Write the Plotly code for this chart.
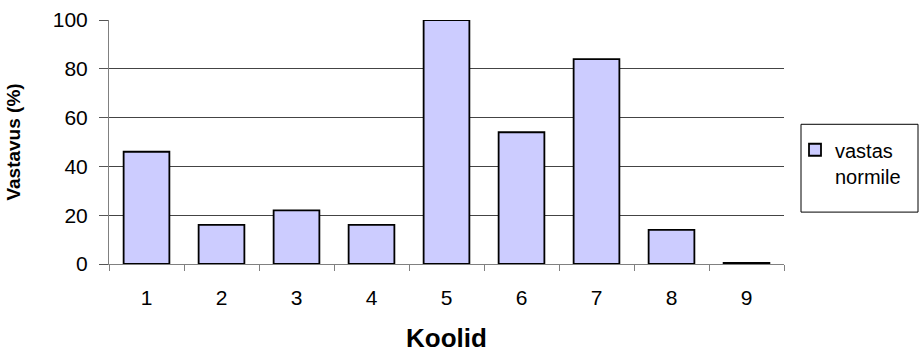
import plotly.graph_objects as go

# Schools and share of results meeting the norm
koolid = ["1", "2", "3", "4", "5", "6", "7", "8", "9"]
vastavus = [46, 16, 22, 16, 100, 54, 84, 14, 0.5]
y_ticks = [0, 20, 40, 60, 80, 100]
series_name = "vastas<br>normile"

W, H = 921, 353
L, R, T, B = 109, 137, 19.5, 89
plot_w = W - L - R
plot_h = H - T - B


def px_x(x):
    return (x - L) / plot_w


def px_y(y):
    return (H - B - y) / plot_h


fig = go.Figure()
fig.add_trace(go.Bar(
    x=koolid,
    y=vastavus,
    name=series_name,
    marker=dict(color="#CCCCFF", line=dict(color="#000000", width=1.8)),
    showlegend=True,
))

font_family = "Liberation Sans, Arial, sans-serif"

fig.update_layout(
    width=W,
    height=H,
    margin=dict(l=L, r=R, t=T, b=B, pad=0, autoexpand=False),
    paper_bgcolor="white",
    plot_bgcolor="white",
    bargap=0.39,
    font=dict(family=font_family, size=16, color="#000"),
    xaxis=dict(
        type="category",
        automargin=False,
        tickson="boundaries",
        ticks="outside",
        ticklen=6,
        tickcolor="#808080",
        showline=True,
        linecolor="#808080",
        linewidth=1,
        showgrid=False,
        ticklabelstandoff=15,
        tickfont=dict(size=21),
        title=dict(text="<b>Koolid</b>", font=dict(size=26), standoff=22),
    ),
    yaxis=dict(
        range=[0, 100],
        automargin=False,
        tickvals=y_ticks,
        ticks="outside",
        ticklen=9,
        tickcolor="#555555",
        showline=True,
        linecolor="#808080",
        linewidth=1,
        showgrid=True,
        gridcolor="#444444",
        gridwidth=1,
        zeroline=False,
        ticklabelstandoff=7,
        tickfont=dict(size=21),
        title=dict(text="<b>Vastavus (%)</b>", font=dict(size=19), standoff=27),
    ),
    legend=dict(
        x=px_x(795),
        y=px_y(130),
        xanchor="left",
        yanchor="top",
        valign="top",
        bgcolor="rgba(0,0,0,0)",
        borderwidth=0,
        font=dict(size=20),
        itemwidth=30,
        tracegroupgap=0,
    ),
    shapes=[dict(
        type="rect",
        xref="paper",
        yref="paper",
        x0=px_x(801),
        x1=px_x(918),
        y0=px_y(212),
        y1=px_y(124),
        line=dict(color="#000000", width=1),
        fillcolor="rgba(0,0,0,0)",
        layer="below",
    )],
)

fig.write_html("out.html")
